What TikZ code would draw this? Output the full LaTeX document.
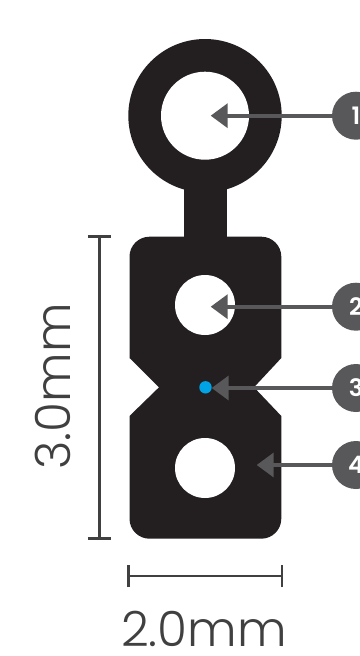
\documentclass[tikz,border=0pt]{standalone}
\usepackage{fontspec}
\setmainfont{Poppins}[UprightFont={* Light},BoldFont={* SemiBold}]
\usetikzlibrary{arrows.meta}
\definecolor{cablecol}{HTML}{231F20}
\definecolor{calloutcol}{HTML}{58585A}
\definecolor{dimcol}{HTML}{404040}
\definecolor{fibrecol}{HTML}{00A4E4}
\tikzset{
  cable/.style={fill=cablecol,draw=none},
  hole/.style={fill=white,draw=none},
  badge/.style={circle,fill=calloutcol,minimum size=48pt,inner sep=0pt,text=white,font=\fontsize{24}{24}\selectfont\bfseries},
  leader/.style={draw=calloutcol,line width=3.6pt,-{Triangle[length=17pt,width=24pt]}},
  dimline/.style={draw=dimcol,line width=2.6pt},
  dimtext/.style={text=dimcol,inner sep=0pt,font=\fontsize{48.5}{48.5}\selectfont}
}
\begin{document}
\begin{tikzpicture}[x=1pt,y=-1pt]
\useasboundingbox (0,0) rectangle (359,656);
% drop wire
\fill[cable] (205,115.7) circle[radius=76.7];
\fill[cable] (184.3,170) rectangle (226.7,250);
\fill[cable,rounded corners=20pt] (205,236.7) -- (281.3,236.7) -- (281.3,300)
  [sharp corners] -- (281.3,358) -- (254,387.3) -- (281.3,416) -- (281.3,500)
  [rounded corners=20pt] -- (281.3,538.7) -- (129.5,538.7) -- (129.5,500)
  [sharp corners] -- (129.5,416) -- (159,387.3) -- (129.5,358) -- (129.5,300)
  [rounded corners=20pt] -- (129.5,236.7) -- cycle;
\fill[hole] (205,115.7) circle[radius=44];
\fill[hole] (205,305) circle[radius=30];
\fill[hole] (205,468) circle[radius=30];
\fill[fibrecol] (205.5,387.3) circle[radius=6.2];
% callouts
\node[badge] (b1) at (356,115.7) {1};
\node[badge] (b2) at (356,306.7) {2};
\node[badge] (b3) at (356,388) {3};
\node[badge] (b4) at (356,465) {4};
\coordinate (t1) at (210.7,115.7);
\coordinate (t2) at (210.7,306.7);
\coordinate (t3) at (211.7,388);
\coordinate (t4) at (256.7,465);
\draw[leader] (b1) -- (t1);
\draw[leader] (b2) -- (t2);
\draw[leader] (b3) -- (t3);
\draw[leader] (b4) -- (t4);
% dimensions
\coordinate (vt) at (99.3,236.7);
\coordinate (vb) at (99.3,538.3);
\draw[dimline] (vt) -- (vb);
\draw[dimline] ([xshift=-11.5pt]vt) -- ([xshift=11.5pt]vt);
\draw[dimline] ([xshift=-11.5pt]vb) -- ([xshift=11.5pt]vb);
\coordinate (hl) at (128.7,576);
\coordinate (hr) at (282,576);
\draw[dimline] (hl) -- (hr);
\draw[dimline] ([yshift=-11pt]hl) -- ([yshift=11pt]hl);
\draw[dimline] ([yshift=-11pt]hr) -- ([yshift=11pt]hr);
\node[dimtext,rotate=90] (h) at (52.5,386.5) {3.0mm};
\node[dimtext] (w) at (204,628.5) {2.0mm};
\end{tikzpicture}
\end{document}
